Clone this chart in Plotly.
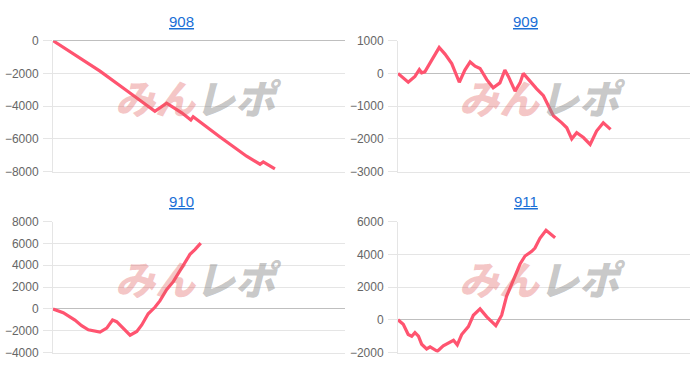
import plotly.graph_objects as go

# ---- data (x = position along the game axis, 0-100; y = 差枚) ----
titles = ["908", "909", "910", "911"]

x908 = [0, 1.7, 7.5, 16.1, 25.2, 30.9, 34.9, 38.9, 44.1, 47.2, 48.0, 57.2, 66.3, 70.9, 72.0, 76.0]
y908 = [0, -200, -880, -1860, -3040, -3820, -4310, -3820, -4410, -4840, -4650, -5880, -7060, -7550, -7410, -7840]

x909 = [0, 3.5, 5.8, 7.3, 8.1, 9.2, 11.5, 14.1, 16.1, 18.4, 21.0, 22.9, 24.7, 26.4, 28.1, 30.4,
        32.6, 34.9, 36.6, 37.8, 40.1, 41.8, 42.9, 45.2, 47.5, 49.8, 51.5, 53.2, 56.1, 57.8, 59.5,
        61.2, 63.5, 65.8, 68.0, 70.3, 71.2, 72.8]
y909 = [0, -270, -90, 120, 20, 50, 400, 790, 590, 300, -270, 100, 350, 220, 150, -190,
        -440, -290, 100, -90, -540, -290, 0, -240, -470, -680, -980, -1290, -1510, -1660, -2000,
        -1810, -1960, -2170, -1760, -1510, -1580, -1710]

x910 = [0, 3.5, 7.5, 9.8, 12.1, 14.4, 16.1, 18.4, 20.4, 21.8, 24.1, 26.4, 28.7, 30.4, 32.6,
        34.9, 36.6, 38.9, 41.2, 44.1, 46.9, 48.6, 50.6]
y910 = [0, -350, -1020, -1530, -1910, -2060, -2120, -1760, -1020, -1170, -1820, -2410, -2060,
        -1470, -440, 150, 740, 1760, 2500, 3830, 5000, 5440, 6030]

x911 = [0, 1.8, 3.5, 4.7, 5.8, 7.0, 8.1, 9.8, 11.0, 13.5, 15.5, 17.8, 19.0, 20.3, 21.8, 24.1,
        25.8, 28.1, 30.4, 33.5, 35.5, 37.2, 39.5, 41.8, 43.5, 45.8, 46.9, 48.6, 50.7, 52.1, 53.8]
y911 = [0, -270, -900, -1000, -780, -1000, -1490, -1780, -1650, -1920, -1590, -1390, -1250,
        -1530, -900, -410, 280, 670, 180, -350, 280, 1450, 2430, 3410, 3900, 4190, 4390, 4980,
        5470, 5280, 5020]

y_ranges = [[-8000, 0], [-3000, 1000], [-4000, 8000], [-2000, 6000]]
y_dticks = [2000, 1000, 2000, 2000]

series = [(x908, y908), (x909, y909), (x910, y910), (x911, y911)]

W, H = 700, 374
# pixel boxes of each plot area: (left, right, top, bottom)
boxes = [(53, 345, 35, 171), (398, 690, 35, 171), (53, 345, 223, 359), (398, 690, 223, 359)]
title_pos = [(181.5, 15), (525.5, 15), (181.5, 202), (525.5, 202)]
logo_pos = [(198.5, 94), (542, 94), (198.5, 282), (542, 282)]

LINE = "rgb(255,84,112)"
GRID = "rgba(0,0,0,0.1)"
ZERO = "rgba(0,0,0,0.25)"

fig = go.Figure()
annotations = []
layout = {}
for i, ((xs, ys), box) in enumerate(zip(series, boxes)):
    n = "" if i == 0 else str(i + 1)
    l, r, t, b = box
    fig.add_trace(go.Scatter(x=xs, y=ys, mode="lines", xaxis="x" + n, yaxis="y" + n,
                             line=dict(color=LINE, width=3.2), hoverinfo="skip", showlegend=False))
    layout["xaxis" + n] = dict(domain=[l / W, r / W], range=[0, 100], showgrid=False,
                               zeroline=False, showticklabels=False, showline=True,
                               linecolor=GRID, linewidth=1, anchor="y" + n, fixedrange=True)
    layout["yaxis" + n] = dict(domain=[1 - b / H, 1 - t / H], range=y_ranges[i],
                               dtick=y_dticks[i], tick0=0, showgrid=True, gridcolor=GRID,
                               gridwidth=1, zeroline=True, zerolinecolor=ZERO, zerolinewidth=1,
                               showline=True, linecolor=GRID, linewidth=1,
                               ticks="outside", ticklen=9, tickcolor=GRID,
                               ticklabelstandoff=2, anchor="x" + n, fixedrange=True,
                               tickfont=dict(family="Liberation Sans, Arial", size=12, color="#666"))
    tx, ty = title_pos[i]
    annotations.append(dict(text="<u>" + titles[i] + "</u>", x=tx / W, y=1 - ty / H,
                            xref="paper", yref="paper", showarrow=False,
                            xanchor="center", yanchor="middle",
                            font=dict(family="Liberation Sans, Arial", size=15, color="#1a6fd6")))
    lx, ly = logo_pos[i]
    annotations.append(dict(
        text="<i><span style='color:rgba(225,90,90,0.5)'>みん</span>"
             "<span style='color:rgba(140,140,140,0.7)'>レポ</span></i>",
        x=lx / W, y=1 - ly / H, xref="paper", yref="paper", showarrow=False,
        xanchor="center", yanchor="middle",
        font=dict(family="Noto Sans CJK JP", size=40, weight=900,
                  color="rgba(140,140,140,0.7)")))

fig.update_layout(width=W, height=H, margin=dict(l=0, r=0, t=0, b=0),
                  paper_bgcolor="white", plot_bgcolor="white",
                  annotations=annotations, **layout)
fig.write_html("out.html", config={"displayModeBar": False})
